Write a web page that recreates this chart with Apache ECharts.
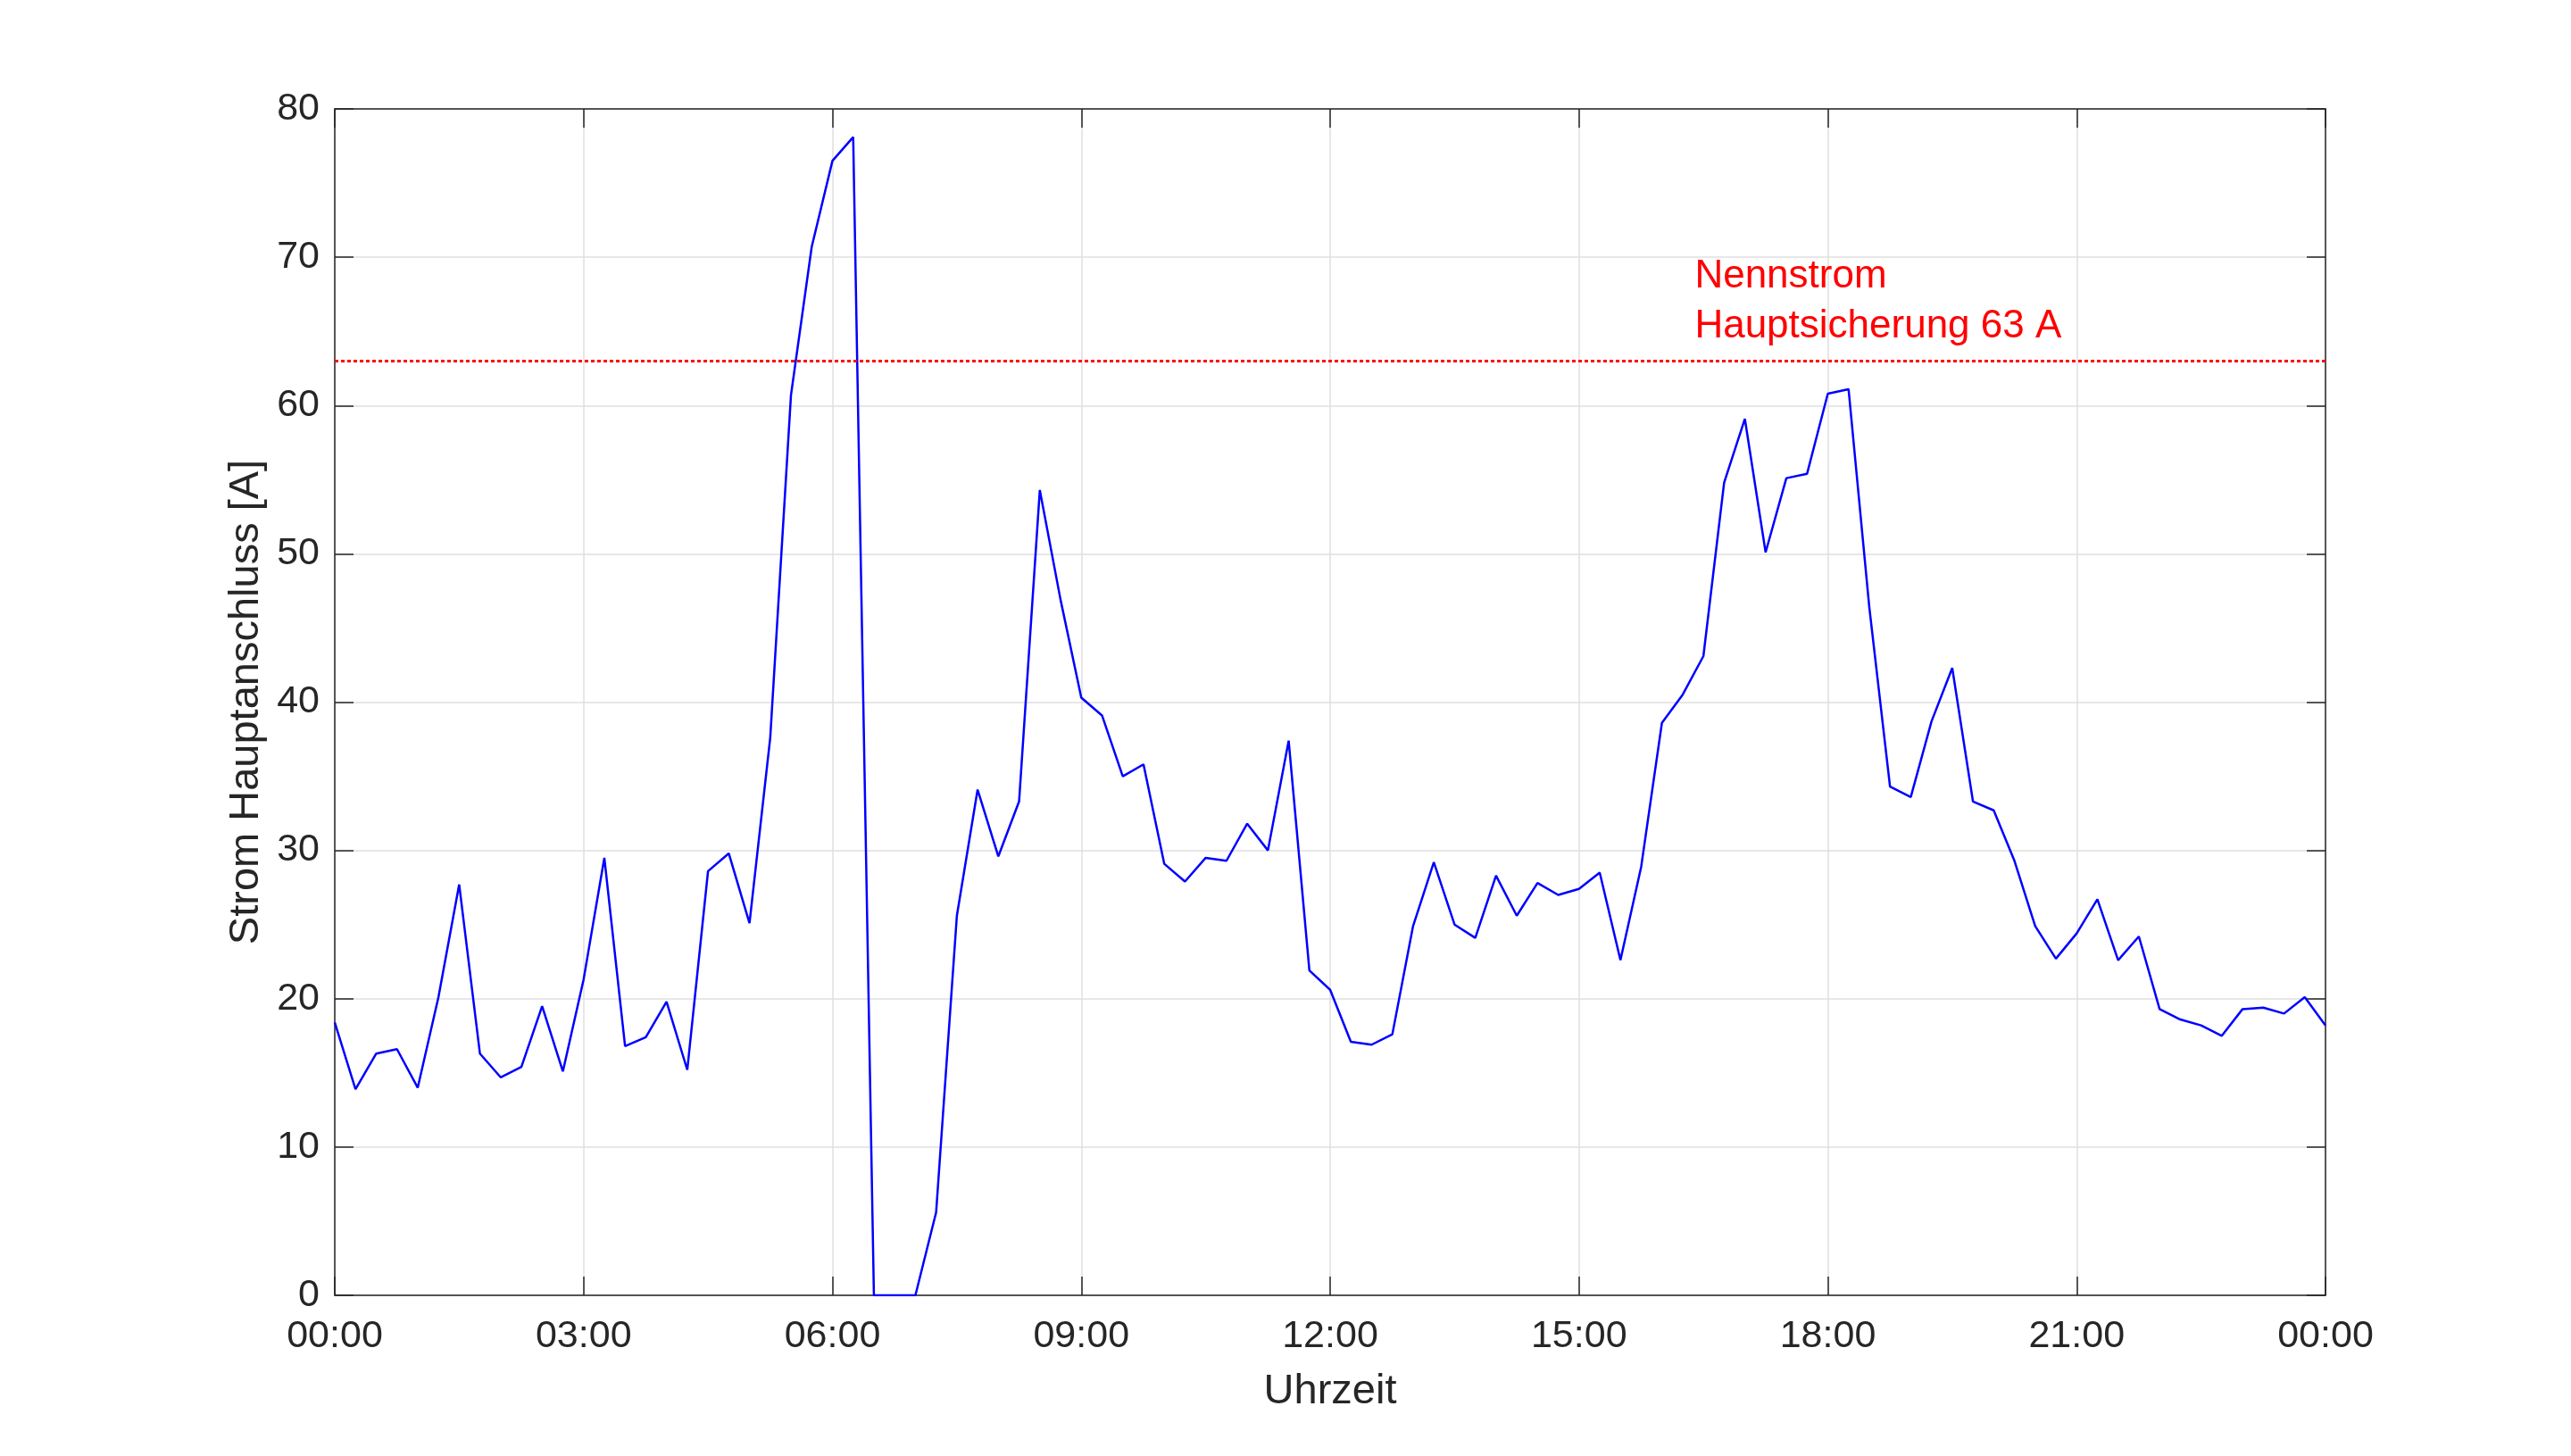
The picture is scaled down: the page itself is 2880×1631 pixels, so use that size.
<!DOCTYPE html>
<html>
<head>
<meta charset="utf-8">
<script src="https://cdn.jsdelivr.net/npm/echarts@6/dist/echarts.min.js"></script>
<style>
html,body{margin:0;padding:0;background:#fff;}
#chart{width:2880px;height:1631px;}
</style>
</head>
<body>
<div id="chart"></div>
<script>
// 15-minute samples from 00:00 to 24:00 (minutes since midnight)
const stepMinutes = 15;
const currentValues = [
  18.4, 13.9, 16.3, 16.6, 14.0, 20.1, 27.7, 16.3, 14.7, 15.4, 19.5, 15.1,
  21.3, 29.5, 16.8, 17.4, 19.8, 15.2, 28.6, 29.8, 25.1, 37.6, 60.7, 70.7,
  76.5, 78.1, 0.0, 0.0, 0.0, 5.6, 25.6, 34.1, 29.6, 33.3, 54.3, 46.9,
  40.3, 39.1, 35.0, 35.8, 29.1, 27.9, 29.5, 29.3, 31.8, 30.0, 37.4, 21.9,
  20.6, 17.1, 16.9, 17.6, 24.9, 29.2, 25.0, 24.1, 28.3, 25.6, 27.8, 27.0,
  27.4, 28.5, 22.6, 28.9, 38.6, 40.5, 43.1, 54.8, 59.1, 50.1, 55.1, 55.4,
  60.8, 61.1, 46.4, 34.3, 33.6, 38.7, 42.3, 33.3, 32.7, 29.3, 24.9, 22.7,
  24.4, 26.7, 22.6, 24.2, 19.3, 18.6, 18.2, 17.5, 19.3, 19.4, 19.0, 20.1,
  18.2
];
const timeMinutes = currentValues.map((_, i) => i * stepMinutes);
const xTickMinutes = [0, 180, 360, 540, 720, 900, 1080, 1260, 1440];
const yTicks = [0, 10, 20, 30, 40, 50, 60, 70, 80];
const ratedCurrent = 63;
const annotationLines = ['Nennstrom', 'Hauptsicherung 63 A'];
const annotationMinute = 985;
const xAxisTitle = 'Uhrzeit';
const yAxisTitle = 'Strom Hauptanschluss [A]';

const FONT = "'Liberation Sans', Arial, Helvetica, sans-serif";
const AXIS_COLOR = '#262626';
const GRID_COLOR = '#dfdfdf';

function fmtTime(v) {
  const m = ((v % 1440) + 1440) % 1440;
  const h = Math.floor(m / 60), mm = m % 60;
  return String(h).padStart(2, '0') + ':' + String(mm).padStart(2, '0');
}

const seriesData = timeMinutes.map((t, i) => [t, currentValues[i]]);

function axisLine() { return { show: true, onZero: false, lineStyle: { color: AXIS_COLOR, width: 1.5 } }; }
function axisTick() { return { show: true, inside: true, length: 21, lineStyle: { color: AXIS_COLOR, width: 1.5 } }; }

const chart = echarts.init(document.getElementById('chart'), null, { renderer: 'canvas' });
chart.setOption({
  animation: false,
  backgroundColor: '#ffffff',
  grid: { left: 375, right: 275, top: 122, bottom: 180, containLabel: false, outerBoundsMode: 'none' },
  xAxis: [
    {
      type: 'value', position: 'bottom', min: xTickMinutes[0], max: xTickMinutes[xTickMinutes.length - 1],
      interval: 180,
      axisLine: axisLine(), axisTick: axisTick(),
      axisLabel: { show: true, color: AXIS_COLOR, fontSize: 43, fontFamily: FONT, margin: 25,
                   formatter: v => fmtTime(v), showMinLabel: true, showMaxLabel: true },
      splitLine: { show: true, lineStyle: { color: GRID_COLOR, width: 1.5 } },
      name: xAxisTitle, nameLocation: 'middle', nameGap: 85,
      nameTextStyle: { color: AXIS_COLOR, fontSize: 47, fontFamily: FONT }
    },
    {
      type: 'value', position: 'top', min: xTickMinutes[0], max: xTickMinutes[xTickMinutes.length - 1],
      interval: 180,
      axisLine: axisLine(), axisTick: axisTick(),
      axisLabel: { show: false }, splitLine: { show: false }
    }
  ],
  yAxis: [
    {
      type: 'value', position: 'left', min: yTicks[0], max: yTicks[yTicks.length - 1], interval: 10,
      axisLine: axisLine(), axisTick: axisTick(),
      axisLabel: { show: true, color: AXIS_COLOR, fontSize: 43, fontFamily: FONT, margin: 17 },
      splitLine: { show: true, lineStyle: { color: GRID_COLOR, width: 1.5 } },
      name: yAxisTitle, nameLocation: 'middle', nameGap: 65, nameRotate: 90,
      nameTextStyle: { color: AXIS_COLOR, fontSize: 47, fontFamily: FONT }
    },
    {
      type: 'value', position: 'right', min: yTicks[0], max: yTicks[yTicks.length - 1], interval: 10,
      axisLine: axisLine(), axisTick: axisTick(),
      axisLabel: { show: false }, splitLine: { show: false }
    }
  ],
  series: [
    {
      type: 'line',
      xAxisIndex: 0, yAxisIndex: 0,
      data: seriesData,
      showSymbol: false,
      symbol: 'none',
      lineStyle: { color: '#0000ff', width: 2.5 },
      itemStyle: { color: '#0000ff' },
      z: 3,
      markLine: {
        silent: true, symbol: 'none', animation: false,
        lineStyle: { color: '#ff0000', width: 3, type: [4, 3] },
        label: { show: false },
        data: [{ yAxis: ratedCurrent }]
      },
      markPoint: {
        silent: true, animation: false,
        symbol: 'circle', symbolSize: 0,
        data: [{
          coord: [annotationMinute, ratedCurrent],
          label: {
            show: true, position: [0, 0], align: 'left', verticalAlign: 'bottom',
            offset: [-2, -11],
            formatter: annotationLines.join('\n'),
            color: '#ff0000', fontSize: 44, fontFamily: FONT, lineHeight: 56
          }
        }]
      }
    }
  ]
});
</script>
</body>
</html>
